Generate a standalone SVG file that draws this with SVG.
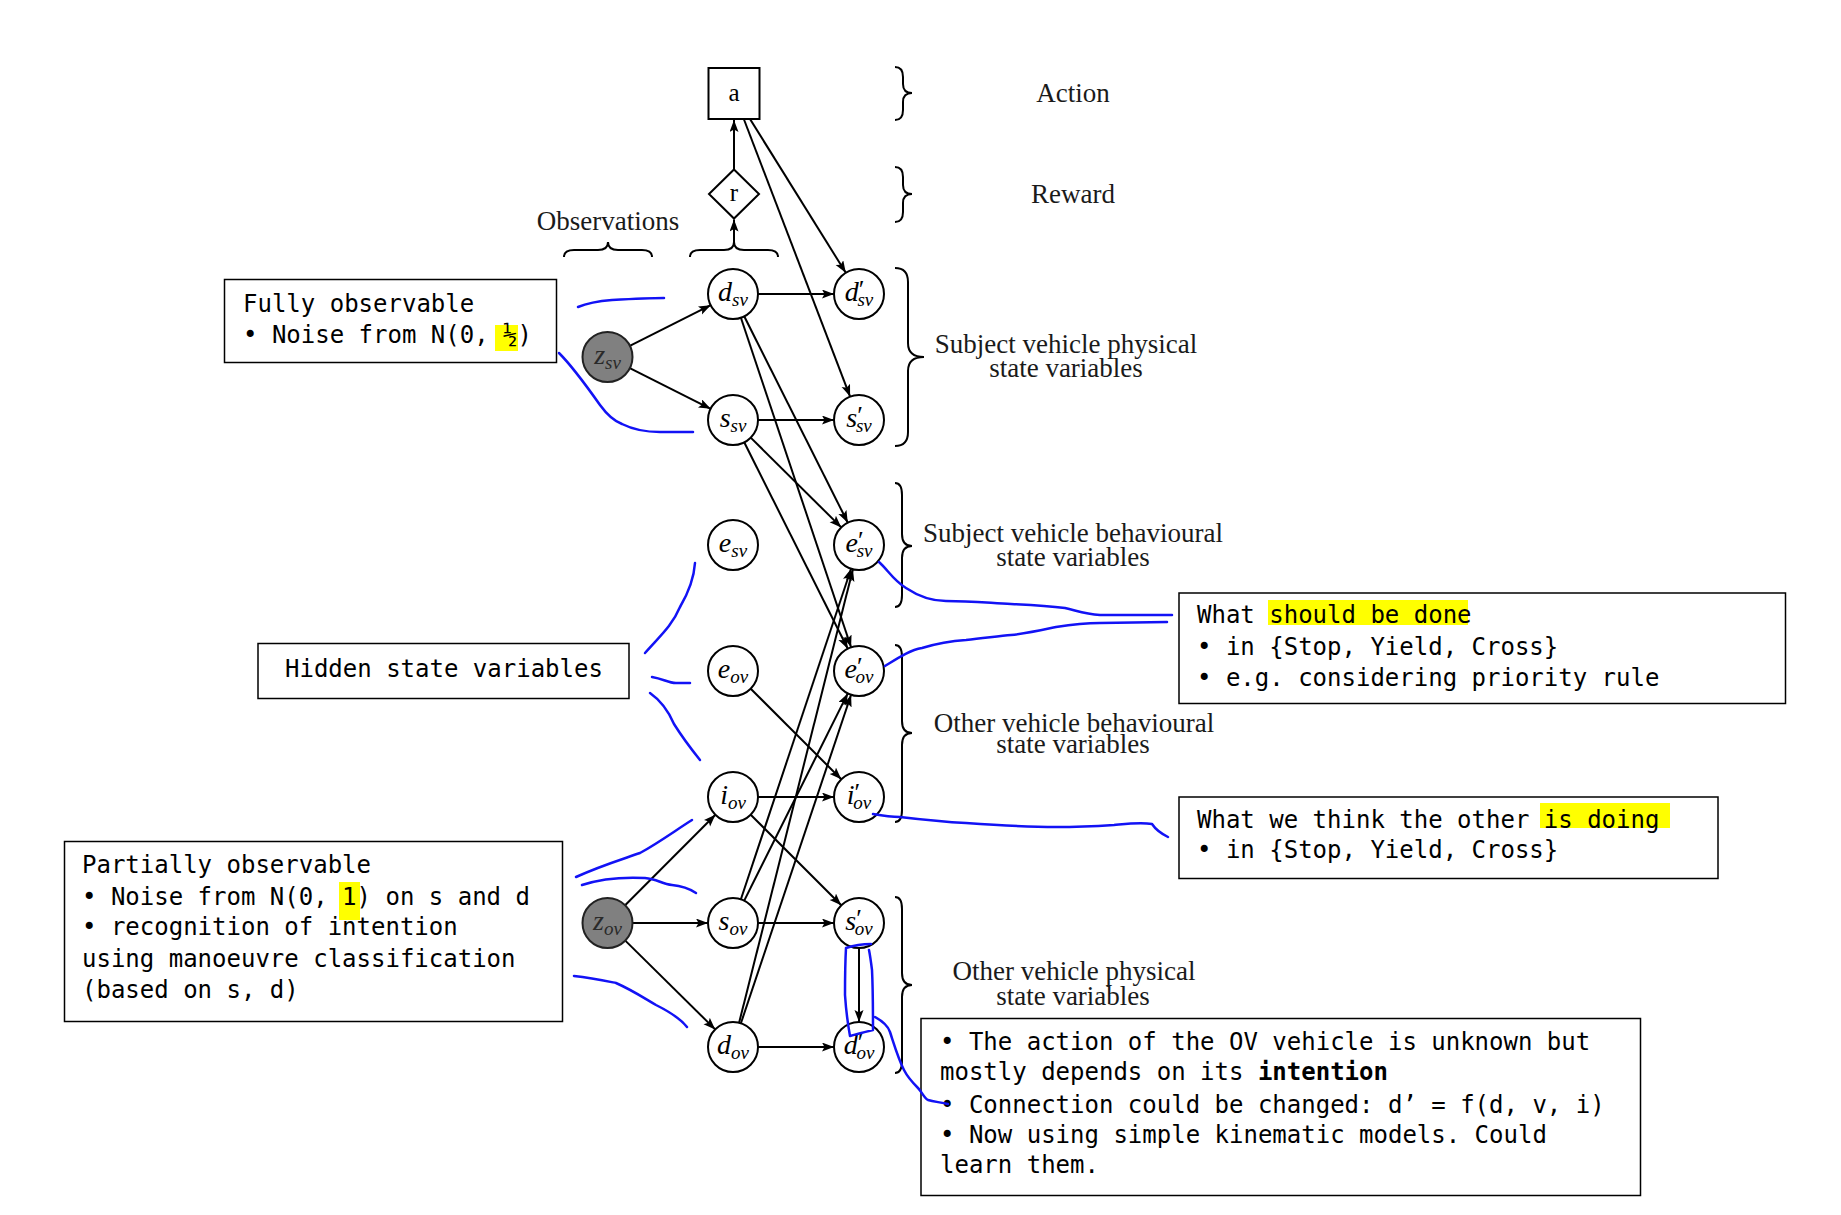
<svg xmlns="http://www.w3.org/2000/svg" width="1841" height="1215" viewBox="0 0 1841 1215">
<style>
.nd{fill:#fff;stroke:#000;stroke-width:2}
.obs{fill:#808080;stroke:#222;stroke-width:2}
.lbl{font-family:"Liberation Serif",serif;font-style:italic;font-size:28px;text-anchor:middle;fill:#000}
.obl{fill:#2a2a2a}
.sub{font-size:19px}
.pr{font-size:26px;font-style:normal}
.rm{font-family:"Liberation Serif",serif;font-size:25px;text-anchor:middle;fill:#000}
.ann{font-family:"Liberation Serif",serif;font-size:27px;text-anchor:middle;fill:#1a1a1a}
.edge{stroke:#000;stroke-width:2;fill:none;marker-end:url(#ah)}
.brace{stroke:#000;stroke-width:2;fill:none}
.box{fill:#fff;stroke:#000;stroke-width:1.5}
.mono{font-family:"DejaVu Sans Mono","Liberation Mono",monospace;font-size:24px;fill:#000}
.hl{fill:#ffff00}
.blue{stroke:#1212f5;stroke-width:2.5;fill:none;stroke-linecap:round;stroke-linejoin:round}
</style>
<defs>
<marker id="ah" markerUnits="userSpaceOnUse" markerWidth="13" markerHeight="10" refX="12" refY="4.5" orient="auto">
<path d="M0,0 L12,4.5 L0,9 L2.5,4.5 Z" fill="#000"/>
</marker>
</defs>
<rect width="1841" height="1215" fill="#fff"/>

<g id="braces">
<path class="brace" d="M895,67 Q903,67 903,77 L903,84 Q903,93 912,93 Q903,93 903,102 L903,110 Q903,120 895,120"/>
<path class="brace" d="M895,167 Q903,167 903,177 L903,185 Q903,194 912,194 Q903,194 903,203 L903,212 Q903,222 895,222"/>
<path class="brace" d="M895,268 Q908,268 908,282 L908,343 Q908,357 924,357 Q908,357 908,371 L908,432 Q908,446 895,446"/>
<path class="brace" d="M895,483 Q902,483 902,495 L902,534 Q902,546 912,546 Q902,546 902,558 L902,595 Q902,607 895,607"/>
<path class="brace" d="M895,645 Q902,645 902,657 L902,721 Q902,733 912,733 Q902,733 902,745 L902,810 Q902,822 895,822"/>
<path class="brace" d="M895,897 Q902,897 902,909 L902,973 Q902,985 912,985 Q902,985 902,997 L902,1061 Q902,1073 895,1073"/>
<path class="brace" d="M564,257 Q564,250 574,250 L598,250 Q608,250 608,242 Q608,250 618,250 L642,250 Q652,250 652,257"/>
<path class="brace" d="M690,257 Q690,250 700,250 L724,250 Q734,250 734,242 Q734,250 744,250 L768,250 Q778,250 778,257"/>
</g>

<g id="annotations">
<text class="ann" x="1073" y="102">Action</text>
<text class="ann" x="1073" y="203">Reward</text>
<text class="ann" x="608" y="230">Observations</text>
<text class="ann" x="1066" y="353">Subject vehicle physical</text>
<text class="ann" x="1066" y="377">state variables</text>
<text class="ann" x="1073" y="542">Subject vehicle behavioural</text>
<text class="ann" x="1073" y="566">state variables</text>
<text class="ann" x="1074" y="732">Other vehicle behavioural</text>
<text class="ann" x="1073" y="753">state variables</text>
<text class="ann" x="1074" y="980">Other vehicle physical</text>
<text class="ann" x="1073" y="1005">state variables</text>
</g>

<g id="connectors">
<line class="edge" x1="734" y1="169.5" x2="734" y2="120"/>
<line class="edge" x1="734" y1="242" x2="734" y2="219.5"/>
<line class="edge" x1="750" y1="119" x2="845.8" y2="272.8"/>
<line class="edge" x1="743.8" y1="119" x2="850.1" y2="396.6"/>
<line class="edge" x1="629.8" y1="345.8" x2="710.7" y2="305.2"/>
<line class="edge" x1="629.8" y1="368.2" x2="710.7" y2="408.8"/>
<line class="edge" x1="758" y1="294" x2="834" y2="294"/>
<line class="edge" x1="758" y1="420" x2="834" y2="420"/>
<line class="edge" x1="744.2" y1="316.3" x2="847.8" y2="522.7"/>
<line class="edge" x1="740.9" y1="317.7" x2="851.1" y2="647.3"/>
<line class="edge" x1="750.7" y1="437.6" x2="841.3" y2="527.4"/>
<line class="edge" x1="744.2" y1="442.3" x2="847.8" y2="648.7"/>
<line class="edge" x1="750.7" y1="688.7" x2="841.3" y2="779.3"/>
<line class="edge" x1="758" y1="797" x2="834" y2="797"/>
<line class="edge" x1="750.7" y1="814.7" x2="841.3" y2="905.3"/>
<line class="edge" x1="625.1" y1="905.3" x2="715.4" y2="814.7"/>
<line class="edge" x1="632.5" y1="923" x2="708" y2="923"/>
<line class="edge" x1="625.3" y1="940.6" x2="715.2" y2="1029.4"/>
<line class="edge" x1="758" y1="923" x2="834" y2="923"/>
<line class="edge" x1="758" y1="1047" x2="834" y2="1047"/>
<line class="edge" x1="859" y1="948" x2="859" y2="1022"/>
<line class="edge" x1="740.9" y1="899.3" x2="851.1" y2="568.7"/>
<line class="edge" x1="744.2" y1="900.6" x2="847.8" y2="693.4"/>
<line class="edge" x1="739.1" y1="1022.8" x2="852.9" y2="569.2"/>
<line class="edge" x1="740.9" y1="1023.3" x2="851.1" y2="694.7"/>
</g>

<g id="node-a"><rect class="nd" x="708.5" y="68" width="51" height="51"/><text class="rm" x="734" y="101">a</text></g>
<g id="node-r"><polygon class="nd" points="734,169.5 759,194 734,218.5 709,194"/><text class="rm" x="734" y="201">r</text></g>

<g id="node-zsv"><circle class="obs" cx="607.5" cy="357" r="25"/><text class="lbl obl" x="607.5" y="364">z<tspan class="sub" dy="5">sv</tspan></text></g>
<g id="node-dsv"><circle class="nd" cx="733" cy="294" r="25"/><text class="lbl" x="733" y="301">d<tspan class="sub" dy="5">sv</tspan></text></g>
<g id="node-ssv"><circle class="nd" cx="733" cy="420" r="25"/><text class="lbl" x="733" y="427">s<tspan class="sub" dy="5">sv</tspan></text></g>
<g id="node-dsv2"><circle class="nd" cx="859" cy="294" r="25"/><text class="lbl" x="859" y="301">d<tspan class="pr" dy="-3">′</tspan><tspan class="sub" dx="-7" dy="8">sv</tspan></text></g>
<g id="node-ssv2"><circle class="nd" cx="859" cy="420" r="25"/><text class="lbl" x="859" y="427">s<tspan class="pr" dy="-3">′</tspan><tspan class="sub" dx="-7" dy="8">sv</tspan></text></g>
<g id="node-esv"><circle class="nd" cx="733" cy="545" r="25"/><text class="lbl" x="733" y="552">e<tspan class="sub" dy="5">sv</tspan></text></g>
<g id="node-esv2"><circle class="nd" cx="859" cy="545" r="25"/><text class="lbl" x="859" y="552">e<tspan class="pr" dy="-3">′</tspan><tspan class="sub" dx="-7" dy="8">sv</tspan></text></g>
<g id="node-eov"><circle class="nd" cx="733" cy="671" r="25"/><text class="lbl" x="733" y="678">e<tspan class="sub" dy="5">ov</tspan></text></g>
<g id="node-eov2"><circle class="nd" cx="859" cy="671" r="25"/><text class="lbl" x="859" y="678">e<tspan class="pr" dy="-3">′</tspan><tspan class="sub" dx="-7" dy="8">ov</tspan></text></g>
<g id="node-iov"><circle class="nd" cx="733" cy="797" r="25"/><text class="lbl" x="733" y="804">i<tspan class="sub" dy="5">ov</tspan></text></g>
<g id="node-iov2"><circle class="nd" cx="859" cy="797" r="25"/><text class="lbl" x="859" y="804">i<tspan class="pr" dy="-3">′</tspan><tspan class="sub" dx="-7" dy="8">ov</tspan></text></g>
<g id="node-zov"><circle class="obs" cx="607.5" cy="923" r="25"/><text class="lbl obl" x="607.5" y="930">z<tspan class="sub" dy="5">ov</tspan></text></g>
<g id="node-sov"><circle class="nd" cx="733" cy="923" r="25"/><text class="lbl" x="733" y="930">s<tspan class="sub" dy="5">ov</tspan></text></g>
<g id="node-sov2"><circle class="nd" cx="859" cy="923" r="25"/><text class="lbl" x="859" y="930">s<tspan class="pr" dy="-3">′</tspan><tspan class="sub" dx="-7" dy="8">ov</tspan></text></g>
<g id="node-dov"><circle class="nd" cx="733" cy="1047" r="25"/><text class="lbl" x="733" y="1054">d<tspan class="sub" dy="5">ov</tspan></text></g>
<g id="node-dov2"><circle class="nd" cx="859" cy="1047" r="25"/><text class="lbl" x="859" y="1054">d<tspan class="pr" dy="-3">′</tspan><tspan class="sub" dx="-7" dy="8">ov</tspan></text></g>

<g id="note-fully">
<rect class="box" x="224.5" y="279.5" width="332" height="83"/>
<rect class="hl" x="495" y="325" width="23" height="26"/>
<text class="mono" x="243" y="312">Fully observable</text>
<text class="mono" x="243" y="343">• Noise from N(0, ½)</text>
</g>
<g id="note-hidden">
<rect class="box" x="258" y="643.5" width="371" height="55"/>
<text class="mono" x="285" y="677">Hidden state variables</text>
</g>
<g id="note-partial">
<rect class="box" x="64.5" y="841.5" width="498" height="180"/>
<rect class="hl" x="339" y="882" width="21" height="38"/>
<text class="mono" x="82" y="873">Partially observable</text>
<text class="mono" x="82" y="905">• Noise from N(0, 1) on s and d</text>
<text class="mono" x="82" y="935">• recognition of intention</text>
<text class="mono" x="82" y="967">using manoeuvre classification</text>
<text class="mono" x="82" y="998">(based on s, d)</text>
</g>
<g id="note-should">
<rect class="box" x="1179" y="593" width="606.5" height="110.5"/>
<rect class="hl" x="1268" y="600" width="200" height="25"/>
<text class="mono" x="1197" y="623">What should be done</text>
<text class="mono" x="1197" y="655">• in {Stop, Yield, Cross}</text>
<text class="mono" x="1197" y="686">• e.g. considering priority rule</text>
</g>
<g id="note-doing">
<rect class="box" x="1179" y="797" width="539" height="81.5"/>
<rect class="hl" x="1540" y="803" width="130" height="25"/>
<text class="mono" x="1197" y="828">What we think the other is doing</text>
<text class="mono" x="1197" y="858">• in {Stop, Yield, Cross}</text>
</g>
<g id="note-action">
<rect class="box" x="921" y="1018.5" width="719.5" height="177"/>
<text class="mono" x="940" y="1050">• The action of the OV vehicle is unknown but</text>
<text class="mono" x="940" y="1080">mostly depends on its <tspan font-weight="bold">intention</tspan></text>
<text class="mono" x="940" y="1113">• Connection could be changed: d’ = f(d, v, i)</text>
<text class="mono" x="940" y="1143">• Now using simple kinematic models. Could</text>
<text class="mono" x="940" y="1173">learn them.</text>
</g>

<g id="ink">
<path class="blue" d="M578,307 C590,302 600,301 612,300 C630,299 648,298 664,298"/>
<path class="blue" d="M559,353 C572,366 588,388 600,405 C608,416 614,421 622,424 C634,430 646,432 660,432 L693,432"/>
<path class="blue" d="M645,653 C660,636 672,626 680,607 C690,590 694,578 695,563"/>
<path class="blue" d="M652,677 C664,679 668,683 676,683 L690,683"/>
<path class="blue" d="M650,693 C660,700 668,710 674,724 C684,740 692,750 700,760"/>
<path class="blue" d="M576,877 C600,866 620,860 640,853 C660,842 676,830 692,820"/>
<path class="blue" d="M582,885 C600,879 625,877 645,878 C657,879 662,884 672,885 C684,886 690,889 696,893"/>
<path class="blue" d="M574,976 C592,978 606,981 616,983 C632,990 644,998 656,1005 C670,1012 680,1018 687,1027"/>
<path class="blue" d="M879,562 C888,570 893,580 906,588 C918,596 930,601 946,601 C970,601 990,603 1011,604 C1035,605 1050,606 1065,608 C1078,611 1085,614 1100,615 L1172,615"/>
<path class="blue" d="M885,666 C898,658 910,650 922,648 C935,644 950,641 966,640 C985,638 1000,636 1011,635 C1030,633 1042,630 1056,627 C1075,624 1088,623 1100,623 L1167,622"/>
<path class="blue" d="M873,814 C884,816 892,817 900,817 C925,820 945,822 966,823 C995,825 1025,827 1056,827 C1080,827 1098,826 1114,825 C1125,824 1140,822 1152,824 C1156,830 1162,834 1168,837"/>
<path class="blue" d="M846,948 C852,946 862,944 871,944 M846,948 C845,965 845,980 845,995 C846,1010 848,1025 850,1036 C857,1034 865,1032 873,1030 C873,1010 873,990 872,970 C871,962 870,955 869,950"/>
<path class="blue" d="M875,1017 C884,1022 888,1026 890,1032 C894,1044 898,1058 904,1070 C908,1078 914,1084 918,1088 C922,1092 924,1098 928,1100 C934,1102 940,1102 948,1104"/>
</g>
</svg>
